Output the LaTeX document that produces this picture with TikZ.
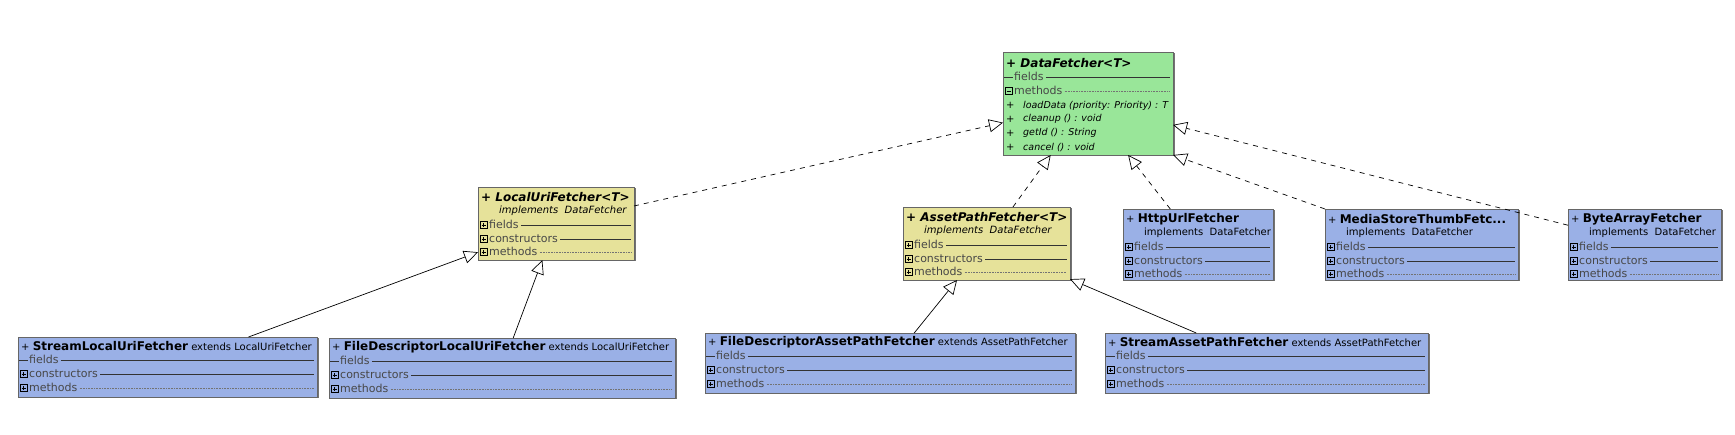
\documentclass[tikz,border=0pt]{standalone}
\usepackage{fontspec}
\setmainfont{DejaVu Sans}
\usetikzlibrary{arrows.meta,shadows}

\newcommand{\titlesize}{\fontsize{12}{14}\selectfont}
% one section row of a class box: box, offset, icon, label, rule
\newcommand{\classrow}[5]{%
  \node[rowlabel] (#1-#4) at ([xshift=11pt,yshift=-#2pt]#1.north west) {#4};
  \pic at ([xshift=2pt]#1.west |- #1-#4.west) {#3icon};
  \draw[#5rule] ([xshift=2pt]#1-#4.east) -- ([xshift=-3pt]#1.east |- #1-#4.east);
}

\begin{document}
\begin{tikzpicture}[x=1pt, y=-1pt]
  \definecolor{umlgreen}{HTML}{99E699}
  \definecolor{umlyellow}{HTML}{E6E29A}
  \definecolor{umlblue}{HTML}{9AB0E6}
  \tikzstyle{classbox}=[draw=black!60, line width=0.6pt, inner sep=0pt, outer sep=0pt, anchor=north west,
    drop shadow={shadow xshift=1.5pt, shadow yshift=-1.5pt, opacity=1, fill=black!55}]
  \tikzstyle{titletext}=[inner sep=0pt, anchor=west]
  \tikzstyle{rowlabel}=[inner sep=0pt, anchor=west, text=black!72, text height=7.5pt, text depth=0pt,
    font=\fontsize{11}{12}\selectfont]
  \tikzstyle{solidrule}=[draw=black!80, line width=0.7pt]
  \tikzstyle{dottedrule}=[draw=black!55, line width=0.5pt, dash pattern=on 0.6pt off 1pt]
  \tikzstyle{realize}=[draw, line width=0.7pt, dash pattern=on 5pt off 5pt, -{Triangle[fill=white, length=14pt, width=13pt]}]
  \tikzstyle{extend}=[draw, line width=0.7pt, -{Triangle[fill=white, length=14pt, width=13pt]}]
  \tikzset{
    plusicon/.pic={\draw[line width=0.6pt] (0pt,-3.5pt) rectangle (7pt,3.5pt);
      \draw[line width=0.6pt] (1.5pt,0pt) -- (5.5pt,0pt) (3.5pt,-2pt) -- (3.5pt,2pt);},
    minusicon/.pic={\draw[line width=0.6pt] (0pt,-3.5pt) rectangle (7pt,3.5pt);
      \draw[line width=0.6pt] (1.5pt,0pt) -- (5.5pt,0pt);},
    dashicon/.pic={\draw[line width=0.7pt, black!80] (-1pt,0pt) -- (8pt,0pt);}
  }

  \useasboundingbox (0,0) rectangle (1735,435);

  % interface
  \node[classbox, fill=umlgreen, minimum width=170pt, minimum height=103pt] (df) at (1003,52) {};
  \node[titletext] (df-title) at ([xshift=3pt,yshift=-11pt]df.north west) {\titlesize\bfseries + \itshape DataFetcher<T>};
  \classrow{df}{25}{dash}{fields}{solid}
  \classrow{df}{39}{minus}{methods}{dotted}
  \foreach \m [count=\i] in {{loadData (priority: Priority) : T}, {cleanup () : void}, {getId () : String}, {cancel () : void}} {
    \node[titletext] (df-p\i) at ([xshift=3pt, yshift={-(39.5+13.9*\i)*1pt}]df.north west) {+};
    \node[titletext, font=\fontsize{9.5}{11}\selectfont\itshape] (df-m\i) at ([xshift=20pt, yshift={-(39.5+13.9*\i)*1pt}]df.north west) {\m};
  }

  % abstract classes
  \node[classbox, fill=umlyellow, minimum width=156pt, minimum height=73pt] (lu) at (478,187) {};
  \node[titletext] (lu-title) at ([xshift=3pt,yshift=-10pt]lu.north west) {\titlesize\bfseries + \itshape LocalUriFetcher<T>};
  \node[titletext, font=\itshape] (lu-impl) at ([xshift=21pt,yshift=-24pt]lu.north west) {implements\ \ DataFetcher};

  \node[classbox, fill=umlyellow, minimum width=167pt, minimum height=73pt] (ap) at (903,207) {};
  \node[titletext] (ap-title) at ([xshift=3pt,yshift=-10pt]ap.north west) {\titlesize\bfseries + \itshape AssetPathFetcher<T>};
  \node[titletext, font=\itshape] (ap-impl) at ([xshift=21pt,yshift=-24pt]ap.north west) {implements\ \ DataFetcher};

  % direct implementations
  \node[classbox, fill=umlblue, minimum width=150pt, minimum height=71pt] (hu) at (1123,209) {};
  \node[titletext] (hu-title) at ([xshift=3pt,yshift=-10pt]hu.north west) {+ {\titlesize\bfseries HttpUrlFetcher}};
  \node[titletext] (hu-impl) at ([xshift=21pt,yshift=-24pt]hu.north west) {implements\ \ DataFetcher};

  \node[classbox, fill=umlblue, minimum width=193pt, minimum height=71pt] (ms) at (1325,209) {};
  \node[titletext] (ms-title) at ([xshift=3pt,yshift=-10pt]ms.north west) {+ {\titlesize\bfseries MediaStoreThumbFetc...}};
  \node[titletext] (ms-impl) at ([xshift=21pt,yshift=-24pt]ms.north west) {implements\ \ DataFetcher};

  \node[classbox, fill=umlblue, minimum width=153pt, minimum height=71pt] (ba) at (1568,209) {};
  \node[titletext] (ba-title) at ([xshift=3pt,yshift=-10pt]ba.north west) {+ {\titlesize\bfseries ByteArrayFetcher}};
  \node[titletext] (ba-impl) at ([xshift=21pt,yshift=-24pt]ba.north west) {implements\ \ DataFetcher};

  \foreach \b in {lu,ap,hu,ms,ba} {
    \classrow{\b}{38}{plus}{fields}{solid}
    \classrow{\b}{52}{plus}{constructors}{solid}
    \classrow{\b}{65}{plus}{methods}{dotted}
  }

  % subclasses
  \node[classbox, fill=umlblue, minimum width=299pt, minimum height=60pt] (slu) at (18,337) {};
  \node[titletext] (slu-title) at ([xshift=3pt,yshift=-9pt]slu.north west) {+ {\titlesize\bfseries StreamLocalUriFetcher} extends LocalUriFetcher};

  \node[classbox, fill=umlblue, minimum width=346pt, minimum height=60pt] (fdlu) at (329,338) {};
  \node[titletext] (fdlu-title) at ([xshift=3pt,yshift=-9pt]fdlu.north west) {+ {\titlesize\bfseries FileDescriptorLocalUriFetcher} extends LocalUriFetcher};

  \node[classbox, fill=umlblue, minimum width=370pt, minimum height=60pt] (fdap) at (705,333) {};
  \node[titletext] (fdap-title) at ([xshift=3pt,yshift=-9pt]fdap.north west) {+ {\titlesize\bfseries FileDescriptorAssetPathFetcher} extends AssetPathFetcher};

  \node[classbox, fill=umlblue, minimum width=323pt, minimum height=60pt] (sap) at (1105,333) {};
  \node[titletext] (sap-title) at ([xshift=3pt,yshift=-9pt]sap.north west) {+ {\titlesize\bfseries StreamAssetPathFetcher} extends AssetPathFetcher};

  \foreach \b in {slu,fdlu,fdap,sap} {
    \classrow{\b}{23}{dash}{fields}{solid}
    \classrow{\b}{37}{plus}{constructors}{solid}
    \classrow{\b}{51}{plus}{methods}{dotted}
  }

  % relations
  \draw[realize] (lu) -- (df);
  \draw[realize] (ap) -- (df);
  \draw[realize] (hu) -- (df);
  \draw[realize] (ms.north west) -- (df.south east);
  \draw[realize] (ba) -- (df);
  \draw[extend] (slu) -- (lu);
  \draw[extend] (fdlu) -- (lu);
  \draw[extend] (fdap) -- (ap);
  \draw[extend] (sap) -- (ap);
\end{tikzpicture}
\end{document}
